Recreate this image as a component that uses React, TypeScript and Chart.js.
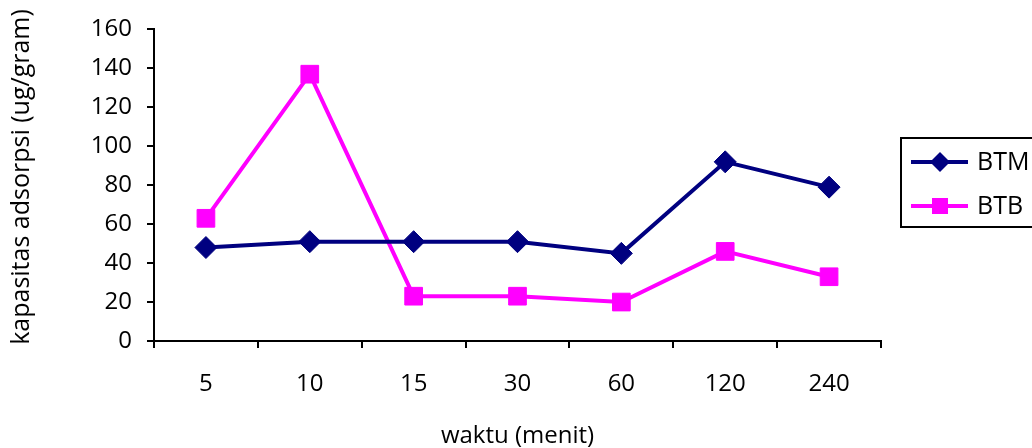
import React, { useEffect, useRef } from "react";
import { Chart, registerables } from "chart.js";

Chart.register(...registerables);

const categories = ["5", "10", "15", "30", "60", "120", "240"];
const btmValues = [48, 51, 51, 51, 45, 92, 79];
const btbValues = [63, 137, 23, 23, 20, 46, 33];
const seriesNames = ["BTM", "BTB"];
const yTitle = "kapasitas adsorpsi (ug/gram)";
const xTitle = "waktu (menit)";

const NAVY = "#000080";
const MAGENTA = "#FF00FF";
const FONT = "'Open Sans', sans-serif";

const decorPlugin = {
  id: "customDecor",
  afterDraw(chart: any) {
    const ctx = chart.ctx;
    ctx.save();
    // y axis title
    ctx.save();
    ctx.translate(22, 177);
    ctx.rotate(-Math.PI / 2);
    ctx.fillStyle = "#000";
    ctx.font = `25px ${FONT}`;
    ctx.textAlign = "center";
    ctx.textBaseline = "middle";
    ctx.fillText(yTitle, 0, 0);
    ctx.restore();
    // legend
    ctx.strokeStyle = "#000";
    ctx.lineWidth = 2;
    ctx.strokeRect(901, 138, 150, 89);
    const rows = [
      { name: seriesNames[0], color: NAVY, y: 162, style: "diamond" },
      { name: seriesNames[1], color: MAGENTA, y: 206, style: "square" },
    ];
    rows.forEach((r) => {
      ctx.strokeStyle = r.color;
      ctx.lineWidth = 4;
      ctx.beginPath();
      ctx.moveTo(911, r.y);
      ctx.lineTo(968, r.y);
      ctx.stroke();
      ctx.fillStyle = r.color;
      const cx = 940;
      if (r.style === "diamond") {
        ctx.beginPath();
        ctx.moveTo(cx, r.y - 10);
        ctx.lineTo(cx + 10, r.y);
        ctx.lineTo(cx, r.y + 10);
        ctx.lineTo(cx - 10, r.y);
        ctx.closePath();
        ctx.fill();
      } else {
        ctx.fillRect(cx - 8, r.y - 8, 16, 16);
      }
      ctx.fillStyle = "#000";
      ctx.font = `25px ${FONT}`;
      ctx.textAlign = "left";
      ctx.textBaseline = "middle";
      ctx.fillText(r.name, 977, r.y + 1);
    });
    ctx.restore();
  },
};

export default function App() {
  const ref = useRef<HTMLCanvasElement | null>(null);
  useEffect(() => {
    if (!ref.current) return;
    const chart = new Chart(ref.current, {
      type: "line",
      data: {
        labels: categories,
        datasets: [
          {
            label: seriesNames[0],
            data: btmValues,
            borderColor: NAVY,
            backgroundColor: NAVY,
            borderWidth: 4,
            pointStyle: "rectRot",
            pointRadius: 11,
            pointBorderWidth: 1,
            tension: 0,
          },
          {
            label: seriesNames[1],
            data: btbValues,
            borderColor: MAGENTA,
            backgroundColor: MAGENTA,
            borderWidth: 4,
            pointStyle: "rect",
            pointRadius: 12.5,
            pointBorderWidth: 1,
            tension: 0,
          },
        ],
      },
      options: {
        responsive: false,
        animation: false,
        layout: { padding: { top: 25, right: 151, left: 0, bottom: 0 } },
        plugins: {
          legend: { display: false },
          tooltip: { enabled: false },
        },
        scales: {
          x: {
            offset: true,
            grid: {
              offset: true,
              drawOnChartArea: false,
              drawTicks: true,
              tickLength: 7,
              color: "#000",
              lineWidth: 2,
            },
            border: { display: true, color: "#000", width: 2 },
            ticks: {
              color: "#000",
              font: { family: FONT, size: 24 },
              padding: 22,
              maxRotation: 0,
            },
            title: {
              display: true,
              text: xTitle,
              color: "#000",
              font: { family: FONT, size: 24, lineHeight: 1.0 },
              padding: 0,
            },
            afterFit(scale: any) {
              scale.height = 107;
            },
          },
          y: {
            min: 0,
            max: 160,
            ticks: {
              stepSize: 20,
              color: "#000",
              font: { family: FONT, size: 24 },
              padding: 15,
            },
            grid: {
              drawOnChartArea: false,
              drawTicks: true,
              tickLength: 7,
              color: "#000",
              lineWidth: 2,
            },
            border: { display: true, color: "#000", width: 2 },
            afterFit(scale: any) {
              scale.width = 154;
            },
          },
        },
      },
      plugins: [decorPlugin],
    });
    return () => chart.destroy();
  }, []);
  return (
    <div style={{ position: "absolute", left: 0, top: 0, width: 1032, height: 448, background: "#fff" }}>
      <canvas ref={ref} width={1032} height={448} />
    </div>
  );
}
